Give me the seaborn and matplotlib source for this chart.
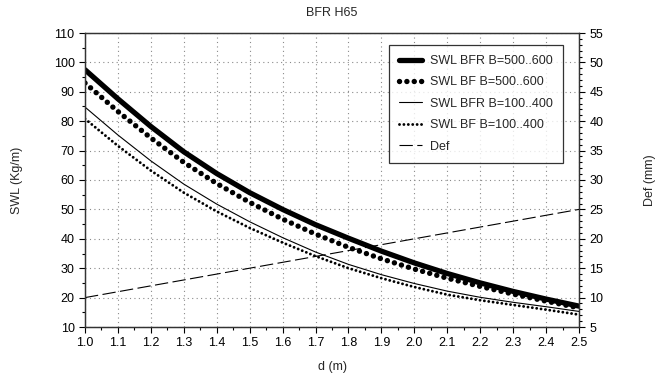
import numpy as np
import pandas as pd
import matplotlib
matplotlib.use('Agg')
import matplotlib.pyplot as plt
from matplotlib.ticker import MultipleLocator, FormatStrFormatter
import seaborn as sns

# data
d = [1.0, 1.1, 1.2, 1.3, 1.4, 1.5, 1.6, 1.7, 1.8, 1.9, 2.0, 2.1, 2.2, 2.3, 2.4, 2.5]
swl_bfr_500 = [97.5, 87.6, 78.2, 69.6, 62.2, 55.7, 50.0, 44.8, 40.2, 35.8, 31.8, 28.2, 25.0, 22.1, 19.5, 17.1]
swl_bf_500 = [93.0, 83.3, 74.3, 66.0, 58.8, 52.4, 46.7, 41.6, 37.1, 33.2, 29.7, 26.6, 23.8, 21.2, 18.8, 16.5]
swl_bfr_100 = [84.8, 75.3, 66.5, 58.6, 51.8, 45.8, 40.4, 35.5, 31.3, 27.8, 24.8, 22.2, 20.1, 18.4, 16.9, 15.3]
swl_bf_100 = [80.8, 71.6, 63.2, 55.7, 49.3, 43.7, 38.7, 34.1, 30.0, 26.6, 23.6, 21.0, 19.1, 17.5, 15.9, 14.2]
deflection = [10, 11, 12, 13, 14, 15, 16, 17, 18, 19, 20, 21, 22, 23, 24, 25]

labels = ['SWL BFR B=500..600', 'SWL BF B=500..600', 'SWL BFR B=100..400', 'SWL BF B=100..400', 'Def']

df = pd.DataFrame({'d': d, 'bfr500': swl_bfr_500, 'bf500': swl_bf_500,
                   'bfr100': swl_bfr_100, 'bf100': swl_bf_100, 'def': deflection})

sns.set_theme(style='ticks')
plt.rcParams['font.family'] = ['Liberation Sans', 'DejaVu Sans']
plt.rcParams['font.size'] = 9

fig = plt.figure(figsize=(6.61, 3.76), dpi=100)
ax = fig.add_axes([85/661, 49/376, 494/661, 294/376])
ax2 = ax.twinx()

# SWL curves on left axis
sns.lineplot(data=df, x='d', y='bfr500', ax=ax, color='black', lw=3.8, label=labels[0])
sns.lineplot(data=df, x='d', y='bf500', ax=ax, color='black', lw=3.9,
             linestyle=(0, (0.01, 1.35)), dash_capstyle='round', label=labels[1])
sns.lineplot(data=df, x='d', y='bfr100', ax=ax, color='black', lw=0.8, label=labels[2])
sns.lineplot(data=df, x='d', y='bf100', ax=ax, color='black', lw=2.1,
             linestyle=(0, (0.01, 1.5)), dash_capstyle='round', label=labels[3])
# deflection on right axis
sns.lineplot(data=df, x='d', y='def', ax=ax2, color='black', lw=0.8,
             linestyle=(0, (12, 4)), label=labels[4])

for a in (ax, ax2):
    if a.get_legend() is not None:
        a.get_legend().remove()

ax.set_xlim(1.0, 2.5)
ax.set_ylim(10, 110)
ax2.set_ylim(5, 55)
ax.xaxis.set_major_locator(MultipleLocator(0.1))
ax.xaxis.set_minor_locator(MultipleLocator(0.05))
ax.xaxis.set_major_formatter(FormatStrFormatter('%.1f'))
ax.yaxis.set_major_locator(MultipleLocator(10))
ax.yaxis.set_minor_locator(MultipleLocator(5))
ax2.yaxis.set_major_locator(MultipleLocator(5))
ax2.yaxis.set_minor_locator(MultipleLocator(1))

ax.grid(True, which='major', ls=(0, (1, 3)), color='#8a8a8a', lw=0.8)
for a in (ax, ax2):
    a.tick_params(which='major', direction='out', length=4, width=0.8, colors='black', labelsize=9)
    a.tick_params(which='minor', direction='out', length=2.5, width=0.8, colors='black')
    for s in a.spines.values():
        s.set_color('#333333')
        s.set_linewidth(0.9)

ax.set_xlabel('d (m)', fontsize=9, labelpad=8)
ax.set_ylabel('SWL (Kg/m)', fontsize=9, labelpad=22)
ax2.set_ylabel('Def (mm)', fontsize=9, labelpad=29)
ax.set_title('BFR H65', fontsize=9, pad=12)

h1, _ = ax.get_legend_handles_labels()
h2, _ = ax2.get_legend_handles_labels()
leg = ax2.legend(h1 + h2, labels, loc='upper right', bbox_to_anchor=(0.968, 0.959),
                 borderaxespad=0, fancybox=False, frameon=True, fontsize=9,
                 handlelength=1.8, handletextpad=0.7, labelspacing=0.75,
                 borderpad=0.8)
leg.get_frame().set_edgecolor('black')
leg.get_frame().set_linewidth(0.9)

fig.savefig('out.png', dpi=100)
